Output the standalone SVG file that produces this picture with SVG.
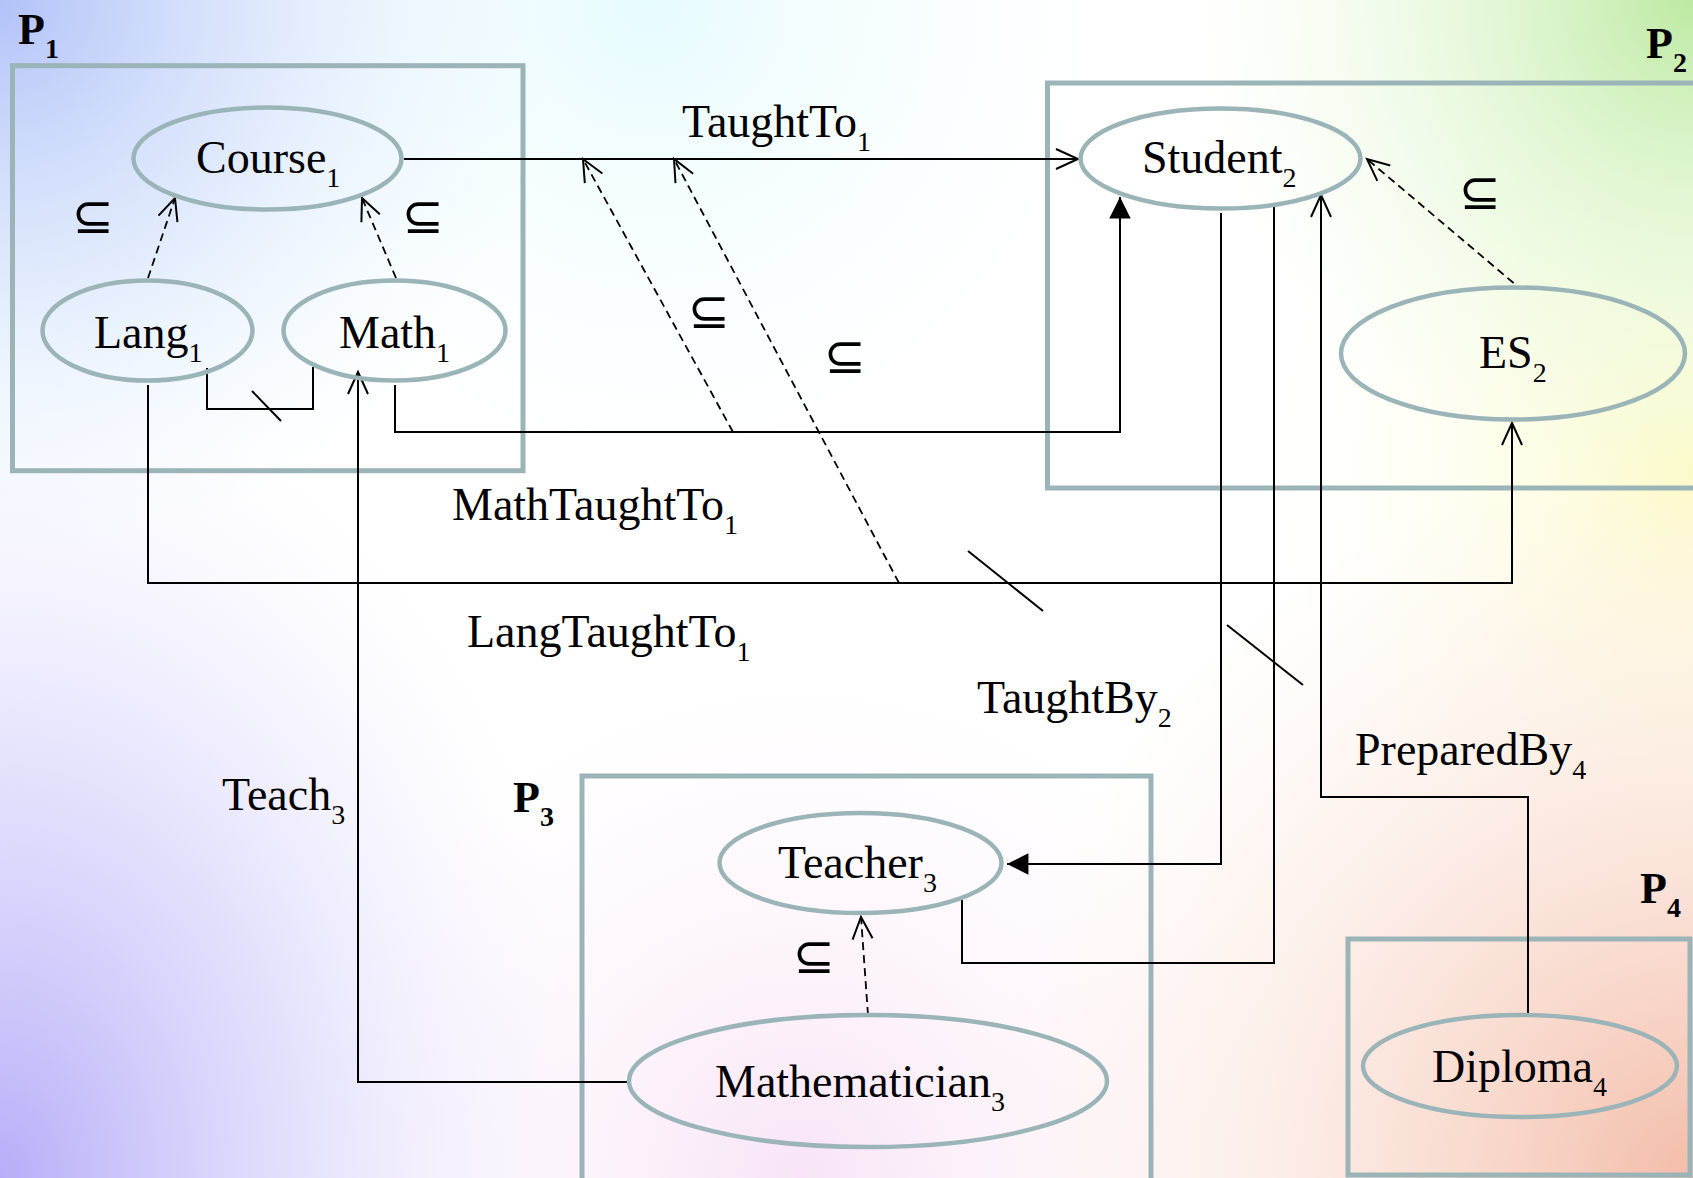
<svg xmlns="http://www.w3.org/2000/svg" width="1693" height="1178" viewBox="0 0 1693 1178">
<defs>
<radialGradient id="gTL" cx="0" cy="0" r="560" gradientUnits="userSpaceOnUse"><stop offset="0" stop-color="#b2c2f8"/><stop offset="0.5" stop-color="#d4e2fc" stop-opacity="0.7"/><stop offset="1" stop-color="#e4f6ff" stop-opacity="0"/></radialGradient>
<radialGradient id="gTC" cx="650" cy="0" r="450" gradientUnits="userSpaceOnUse"><stop offset="0" stop-color="#e6fbff"/><stop offset="1" stop-color="#f4fdff" stop-opacity="0"/></radialGradient>
<radialGradient id="gTR" cx="1693" cy="0" r="500" gradientUnits="userSpaceOnUse"><stop offset="0" stop-color="#bde9a2"/><stop offset="0.5" stop-color="#dcf6cc" stop-opacity="0.6"/><stop offset="1" stop-color="#eefae0" stop-opacity="0"/></radialGradient>
<radialGradient id="gRM" cx="1693" cy="470" r="420" gradientUnits="userSpaceOnUse"><stop offset="0" stop-color="#fcfac8"/><stop offset="1" stop-color="#fffff0" stop-opacity="0"/></radialGradient>
<radialGradient id="gBR" cx="1693" cy="1178" r="720" gradientUnits="userSpaceOnUse"><stop offset="0" stop-color="#f3bca8"/><stop offset="1" stop-color="#fde8dc" stop-opacity="0"/></radialGradient>
<radialGradient id="gBL" cx="0" cy="0" r="600" gradientUnits="userSpaceOnUse" gradientTransform="translate(0 1178) scale(1 1.35)"><stop offset="0" stop-color="#b6aef8"/><stop offset="0.5" stop-color="#d8d4fc" stop-opacity="0.7"/><stop offset="1" stop-color="#f0ecff" stop-opacity="0"/></radialGradient>
<radialGradient id="gBC" cx="800" cy="1178" r="500" gradientUnits="userSpaceOnUse"><stop offset="0" stop-color="#f8e4f6"/><stop offset="1" stop-color="#fff4fc" stop-opacity="0"/></radialGradient>
<marker id="open" markerUnits="userSpaceOnUse" markerWidth="30" markerHeight="30" viewBox="-26 -13 30 26" refX="0" refY="0" orient="auto"><path d="M-22,-10 L0,0 L-22,10" fill="none" stroke="#000" stroke-width="2"/></marker>
<marker id="filled" markerUnits="userSpaceOnUse" markerWidth="30" markerHeight="30" viewBox="-24 -12 28 24" refX="0" refY="0" orient="auto"><path d="M-20,-10 L0,0 L-20,10 Z" fill="#000"/></marker>
</defs>
<style>
.box{fill:none;stroke:#9bb4b7;stroke-width:5}
.ell{fill:none;stroke:#9bb4b7;stroke-width:4.5}
.lbl{font-family:"Liberation Serif","Times New Roman",serif;font-size:46px;fill:#000}
.sub{font-size:28px}
.plbl{font-family:"Liberation Serif","Times New Roman",serif;font-size:44px;font-weight:bold;fill:#000}
.sym{font-family:"DejaVu Sans",sans-serif;font-size:50px;fill:#000;text-anchor:middle}
.ln{fill:none;stroke:#000;stroke-width:2}
.dash{fill:none;stroke:#000;stroke-width:1.8;stroke-dasharray:8 5}
</style>
<rect x="0" y="0" width="1693" height="1178" fill="#ffffff"/>
<rect x="0" y="0" width="1693" height="1178" fill="url(#gBC)"/>
<rect x="0" y="0" width="1693" height="1178" fill="url(#gTC)"/>
<rect x="0" y="0" width="1693" height="1178" fill="url(#gTL)"/>
<rect x="0" y="0" width="1693" height="1178" fill="url(#gRM)"/>
<rect x="0" y="0" width="1693" height="1178" fill="url(#gTR)"/>
<rect x="0" y="0" width="1693" height="1178" fill="url(#gBR)"/>
<rect x="0" y="0" width="1693" height="1178" fill="url(#gBL)"/>

<g id="P1">
<rect class="box" x="12.5" y="65.7" width="510.5" height="405"/>
<text class="plbl" x="18" y="44">P<tspan class="sub" dy="14">1</tspan></text>
</g>
<g id="P2">
<rect class="box" x="1047.5" y="83" width="700" height="405"/>
<text class="plbl" x="1646" y="58">P<tspan class="sub" dy="14">2</tspan></text>
</g>
<g id="P3">
<rect class="box" x="582" y="776" width="569" height="500"/>
<text class="plbl" x="513" y="812">P<tspan class="sub" dy="14">3</tspan></text>
</g>
<g id="P4">
<rect class="box" x="1348" y="939" width="342" height="236"/>
<text class="plbl" x="1640" y="903">P<tspan class="sub" dy="14">4</tspan></text>
</g>

<g id="connectors">
<line class="ln" x1="404" y1="159" x2="1078" y2="159" marker-end="url(#open)"/>
<line class="dash" x1="148" y1="278" x2="175" y2="198" marker-end="url(#open)"/>
<line class="dash" x1="396" y1="278" x2="362" y2="198" marker-end="url(#open)"/>
<polyline class="ln" points="207,368 207,409 313,409 313,367"/>
<line class="ln" x1="252" y1="391" x2="281" y2="421"/>
<polyline class="ln" points="148,385 148,583 1512,583 1512,423" marker-end="url(#open)"/>
<polyline class="ln" points="395,385 395,432 1120,432 1120,197" marker-end="url(#filled)"/>
<line class="dash" x1="733" y1="432" x2="583" y2="159" marker-end="url(#open)"/>
<line class="dash" x1="899" y1="583" x2="674" y2="159" marker-end="url(#open)"/>
<line class="ln" x1="968" y1="551" x2="1043" y2="611"/>
<polyline class="ln" points="1221,213 1221,864 1007,864" marker-end="url(#filled)"/>
<polyline class="ln" points="962,900 962,963 1274,963 1274,203"/>
<line class="ln" x1="1227" y1="625" x2="1303" y2="685"/>
<polyline class="ln" points="1528,1013 1528,797 1321,797 1321,195" marker-end="url(#open)"/>
<polyline class="ln" points="627,1082 358,1082 358,372" marker-end="url(#open)"/>
<line class="dash" x1="868" y1="1015" x2="861" y2="917" marker-end="url(#open)"/>
<line class="dash" x1="1513.6" y1="283" x2="1367" y2="159" marker-end="url(#open)"/>
<text class="lbl" x="682" y="137">TaughtTo<tspan class="sub" dy="14">1</tspan></text>
<text class="lbl" x="452" y="520">MathTaughtTo<tspan class="sub" dy="14">1</tspan></text>
<text class="lbl" x="467" y="647">LangTaughtTo<tspan class="sub" dy="14">1</tspan></text>
<text class="lbl" x="222" y="810">Teach<tspan class="sub" dy="14">3</tspan></text>
<text class="lbl" x="977" y="713">TaughtBy<tspan class="sub" dy="14">2</tspan></text>
<text class="lbl" x="1355" y="765">PreparedBy<tspan class="sub" dy="14">4</tspan></text>
<text class="sym" x="93" y="233">⊆</text>
<text class="sym" x="423" y="233">⊆</text>
<text class="sym" x="709" y="328">⊆</text>
<text class="sym" x="845" y="373">⊆</text>
<text class="sym" x="1480" y="209">⊆</text>
<text class="sym" x="814" y="973">⊆</text>
</g>

<g id="Course1"><ellipse class="ell" cx="267.5" cy="158.5" rx="134" ry="51"/><text class="lbl" x="196" y="173">Course<tspan class="sub" dy="14">1</tspan></text></g>
<g id="Lang1"><ellipse class="ell" cx="147.5" cy="330.5" rx="105" ry="50"/><text class="lbl" x="94" y="348">Lang<tspan class="sub" dy="14">1</tspan></text></g>
<g id="Math1"><ellipse class="ell" cx="394.5" cy="330.5" rx="111" ry="50"/><text class="lbl" x="339" y="348">Math<tspan class="sub" dy="14">1</tspan></text></g>
<g id="Student2"><ellipse class="ell" cx="1220.5" cy="158.5" rx="140" ry="50"/><text class="lbl" x="1142" y="173">Student<tspan class="sub" dy="14">2</tspan></text></g>
<g id="ES2"><ellipse class="ell" cx="1513" cy="353.5" rx="172" ry="66"/><text class="lbl" x="1479" y="368">ES<tspan class="sub" dy="14">2</tspan></text></g>
<g id="Teacher3"><ellipse class="ell" cx="860.5" cy="863" rx="141" ry="50"/><text class="lbl" x="778" y="878">Teacher<tspan class="sub" dy="14">3</tspan></text></g>
<g id="Mathematician3"><ellipse class="ell" cx="868" cy="1081" rx="239" ry="66"/><text class="lbl" x="715" y="1097">Mathematician<tspan class="sub" dy="14">3</tspan></text></g>
<g id="Diploma4"><ellipse class="ell" cx="1520" cy="1066" rx="157" ry="51"/><text class="lbl" x="1432" y="1082">Diploma<tspan class="sub" dy="14">4</tspan></text></g>
</svg>
